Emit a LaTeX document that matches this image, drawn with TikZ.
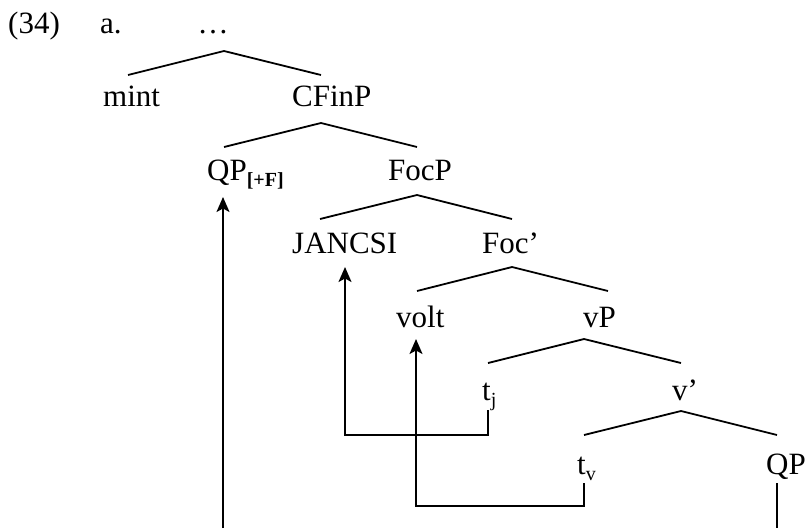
\documentclass[tikz,border=0pt]{standalone}
\usepackage{fontspec}
\setmainfont{Liberation Serif}
\usetikzlibrary{arrows.meta}
\newcommand\lsub[1]{\raisebox{-6pt}{\fontsize{20}{24}\selectfont #1}}
\begin{document}
\begin{tikzpicture}[x=1pt,y=-1pt,
  lbl/.style={anchor=base west,inner sep=0pt,font=\fontsize{31}{37}\selectfont},
  branch/.style={line width=1.8pt},
  mv/.style={line width=1.8pt,-{Stealth[length=15pt,width=13pt,inset=3.5pt]}},
  plain/.style={line width=1.8pt}
]
\useasboundingbox (0,0) rectangle (805,528);
% labels
\node[lbl] (ex) at (8,33) {(34)};
\node[lbl] (a) at (100,33) {a.};
\node[lbl,anchor=base] (dots) at (213,33) {…};
\node[lbl] (mint) at (103,106) {mint};
\node[lbl] (cfinp) at (292,106) {CFinP};
\node[lbl] (qpf) at (207,180) {QP\lsub{\textbf{[+F]}}};
\node[lbl] (focp) at (388,180) {FocP};
\node[lbl] (jancsi) at (292,253) {JANCSI};
\node[lbl] (focb) at (482,253) {Foc’};
\node[lbl] (volt) at (396,327) {volt};
\node[lbl] (vp) at (583,327) {vP};
\node[lbl] (tj) at (482,400) {t\lsub{j}};
\node[lbl] (vb) at (672,400) {v’};
\node[lbl] (tv) at (577,474) {t\lsub{v}};
\node[lbl] (qp) at (766,474) {QP};
% branch points
\coordinate (b0) at (224,51);  \coordinate (b0l) at (128,75);  \coordinate (b0r) at (321,75);
\coordinate (b1) at (321,123); \coordinate (b1l) at (224,147); \coordinate (b1r) at (417,147);
\coordinate (b2) at (417,195); \coordinate (b2l) at (320,219); \coordinate (b2r) at (512,219);
\coordinate (b3) at (512,267); \coordinate (b3l) at (417,291); \coordinate (b3r) at (608,291);
\coordinate (b4) at (584,339); \coordinate (b4l) at (488,363); \coordinate (b4r) at (681,363);
\coordinate (b5) at (681,411); \coordinate (b5l) at (584,435); \coordinate (b5r) at (777,435);
\draw[branch] (b0l) -- (b0) -- (b0r);
\draw[branch] (b1l) -- (b1) -- (b1r);
\draw[branch] (b2l) -- (b2) -- (b2r);
\draw[branch] (b3l) -- (b3) -- (b3r);
\draw[branch] (b4l) -- (b4) -- (b4r);
\draw[branch] (b5l) -- (b5) -- (b5r);
% movement
\coordinate (qpfTip) at (223,197); \coordinate (qpfFoot) at (223,528);
\draw[mv] (qpfFoot) -- (qpfTip);
\coordinate (tjA) at (488,410); \coordinate (tjB) at (488,435); \coordinate (tjC) at (345,435); \coordinate (jTip) at (345,267);
\draw[mv] (tjA) -- (tjB) -- (tjC) -- (jTip);
\coordinate (tvA) at (584,483); \coordinate (tvB) at (584,506); \coordinate (tvC) at (416,506); \coordinate (vTip) at (416,339);
\draw[mv] (tvA) -- (tvB) -- (tvC) -- (vTip);
\coordinate (qpA) at (777,483); \coordinate (qpB) at (777,528);
\draw[plain] (qpA) -- (qpB);
\end{tikzpicture}
\end{document}
